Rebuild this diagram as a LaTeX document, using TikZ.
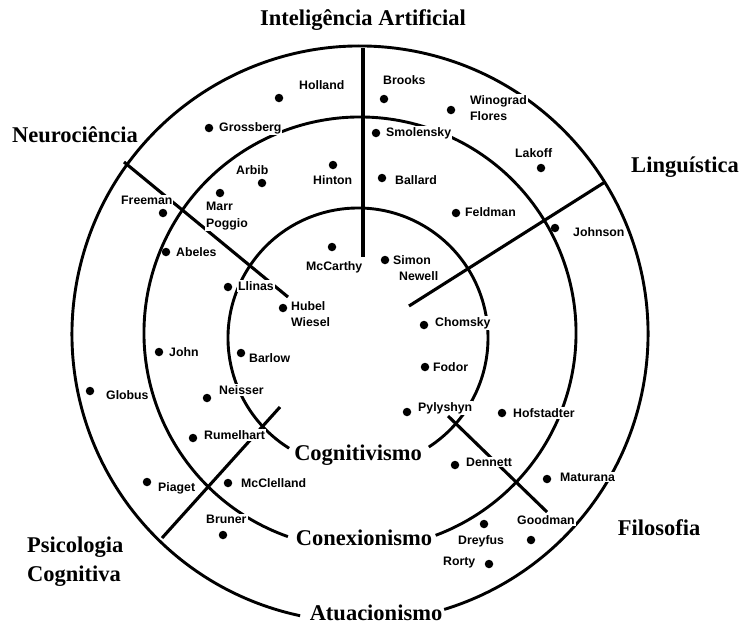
\documentclass[tikz,border=0pt]{standalone}
\usepackage{fontspec}
\setmainfont{Liberation Serif}
\newfontfamily\rotulo{Liberation Sans}

\tikzset{
	campo/.style={font=\bfseries\fontsize{22.5}{29}\selectfont, inner sep=0pt},
	nome/.style={font=\rotulo\bfseries\fontsize{12.3}{16.5}\selectfont, fill=white, inner sep=1pt, anchor=west, align=left},
	ponto/.style={circle, fill, inner sep=0pt, minimum size=8.5pt},
	anel/.style={line width=2.9pt},
	divisa/.style={line width=3.1pt}
}

\begin{document}
\begin{tikzpicture}[x=1pt, y=-1pt]
		\useasboundingbox (0,0) rectangle (743,625);

		% three rings, open at the bottom for their names
		\draw [anel] (358,338) ++(122:130) arc [start angle=122, end angle=417, radius=130];
		\draw [anel] (360,333) ++(109.5:216) arc [start angle=109.5, end angle=429.5, radius=216];
		\draw [anel] (360,334) ++(102:288) arc [start angle=102, end angle=433, radius=288];

		% dividing lines between the fields
		\coordinate (ia-topo) at (363,48);
		\coordinate (ia-base) at (363,257);
		\coordinate (lg-topo) at (605,182);
		\coordinate (lg-base) at (409,306);
		\coordinate (nc-topo) at (124,162);
		\coordinate (nc-base) at (288,297);
		\coordinate (ps-topo) at (162,538);
		\coordinate (ps-base) at (280,407);
		\coordinate (fl-topo) at (547,512);
		\coordinate (fl-base) at (448,416);
		\draw [divisa] (ia-topo) -- (ia-base);
		\draw [divisa] (lg-topo) -- (lg-base);
		\draw [divisa] (nc-topo) -- (nc-base);
		\draw [divisa] (ps-topo) -- (ps-base);
		\draw [divisa] (fl-topo) -- (fl-base);

		% fields
		\node [campo] (ia) at (363,20) {Inteligência Artificial};
		\node [campo] (neuro) at (75,135) {Neurociência};
		\node [campo] (lingua) at (685,167) {Linguística};
		\node [campo, anchor=west, align=left] (psico) at (27,562) {Psicologia\\Cognitiva};
		\node [campo] (filo) at (659,528) {Filosofia};

		% rings
		\node [campo] (cogn) at (358,455) {Cognitivismo};
		\node [campo] (conex) at (364,538) {Conexionismo};
		\node [campo] (atua) at (376,613) {Atuacionismo};

		% names
		\node [nome] (n-holland) at (298,85) {Holland};
		\node [nome] (n-grossberg) at (218,128) {Grossberg};
		\node [nome] (n-arbib) at (235,170) {Arbib};
		\node [nome] (n-hinton) at (312,180) {Hinton};
		\node [nome] (n-freeman) at (120,200) {Freeman};
		\node [nome] (n-marr) at (205,216) {Marr\\Poggio};
		\node [nome] (n-abeles) at (175,252) {Abeles};
		\node [nome] (n-mccarthy) at (305,267) {McCarthy};
		\node [nome] (n-llinas) at (237,286) {Llinas};
		\node [nome] (n-hubel) at (290,314) {Hubel\\Wiesel};
		\node [nome] (n-brooks) at (382,80) {Brooks};
		\node [nome] (n-winograd) at (469,108) {Winograd\\Flores};
		\node [nome] (n-smolensky) at (385,133) {Smolensky};
		\node [nome] (n-lakoff) at (514,153) {Lakoff};
		\node [nome] (n-ballard) at (394,180) {Ballard};
		\node [nome] (n-feldman) at (464,212) {Feldman};
		\node [nome] (n-johnson) at (572,232) {Johnson};
		\node [nome] (n-simon) at (392,268) {Simon\\\hspace*{6pt}Newell};
		\node [nome] (n-barlow) at (248,358) {Barlow};
		\node [nome] (n-chomsky) at (434,323) {Chomsky};
		\node [nome] (n-fodor) at (432,367) {Fodor};
		\node [nome] (n-pylyshyn) at (417,408) {Pylyshyn};
		\node [nome] (n-hofstadter) at (512,413) {Hofstadter};
		\node [nome] (n-dennett) at (465,462) {Dennett};
		\node [nome] (n-maturana) at (559,477) {Maturana};
		\node [nome] (n-goodman) at (516,520) {Goodman};
		\node [nome] (n-dreyfus) at (457,541) {Dreyfus};
		\node [nome] (n-rorty) at (442,563) {Rorty};
		\node [nome] (n-john) at (168,352) {John};
		\node [nome] (n-globus) at (105,395) {Globus};
		\node [nome] (n-neisser) at (218,390) {Neisser};
		\node [nome] (n-rumelhart) at (203,435) {Rumelhart};
		\node [nome] (n-piaget) at (157,488) {Piaget};
		\node [nome] (n-mcclelland) at (240,483) {McClelland};
		\node [nome] (n-bruner) at (205,519) {Bruner};

		% dots
		\node [ponto] (holland) at (279,98) {};
		\node [ponto] (grossberg) at (209,128) {};
		\node [ponto] (arbib) at (262,183) {};
		\node [ponto] (hinton) at (333,165) {};
		\node [ponto] (freeman) at (163,213) {};
		\node [ponto] (marr) at (220,193) {};
		\node [ponto] (abeles) at (166,252) {};
		\node [ponto] (mccarthy) at (332,247) {};
		\node [ponto] (llinas) at (228,287) {};
		\node [ponto] (hubel) at (283,308) {};
		\node [ponto] (brooks) at (384,99) {};
		\node [ponto] (winograd) at (451,110) {};
		\node [ponto] (smolensky) at (376,133) {};
		\node [ponto] (lakoff) at (541,168) {};
		\node [ponto] (ballard) at (382,178) {};
		\node [ponto] (feldman) at (456,213) {};
		\node [ponto] (johnson) at (555,228) {};
		\node [ponto] (simon) at (385,260) {};
		\node [ponto] (barlow) at (241,353) {};
		\node [ponto] (chomsky) at (424,325) {};
		\node [ponto] (fodor) at (425,367) {};
		\node [ponto] (pylyshyn) at (407,412) {};
		\node [ponto] (hofstadter) at (502,413) {};
		\node [ponto] (dennett) at (455,465) {};
		\node [ponto] (maturana) at (547,479) {};
		\node [ponto] (goodman) at (531,540) {};
		\node [ponto] (dreyfus) at (484,524) {};
		\node [ponto] (rorty) at (489,564) {};
		\node [ponto] (john) at (159,352) {};
		\node [ponto] (globus) at (90,391) {};
		\node [ponto] (neisser) at (207,398) {};
		\node [ponto] (rumelhart) at (193,438) {};
		\node [ponto] (piaget) at (147,482) {};
		\node [ponto] (mcclelland) at (228,483) {};
		\node [ponto] (bruner) at (223,535) {};
	\end{tikzpicture}
\end{document}
